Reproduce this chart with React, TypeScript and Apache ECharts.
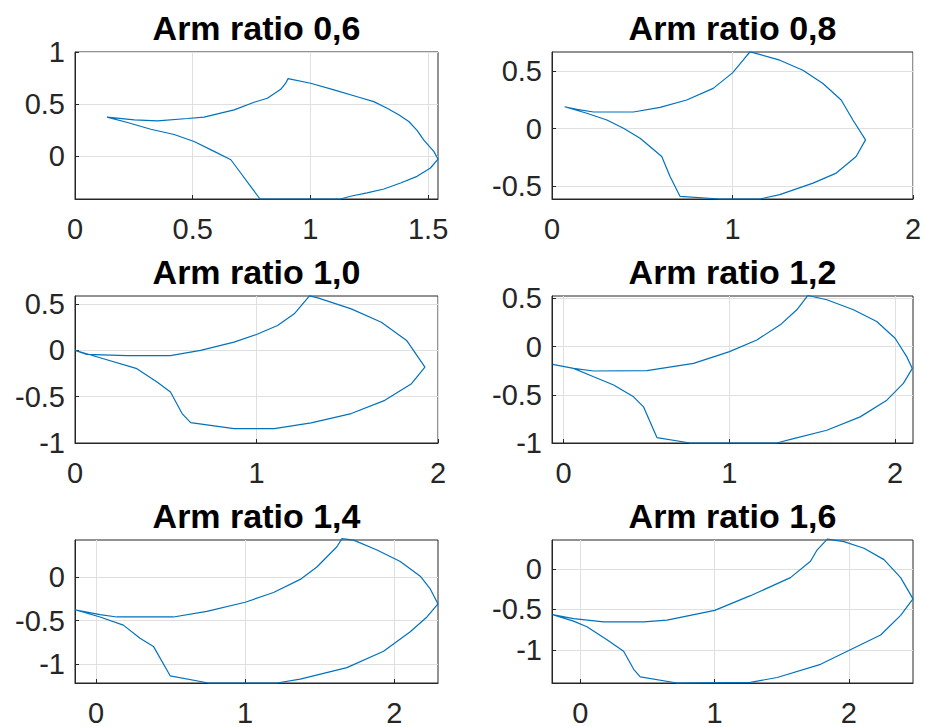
import React, { useEffect, useRef } from "react";
import * as echarts from "echarts";

// ---- Data ----
const titles = ["Arm ratio 0,6", "Arm ratio 0,8", "Arm ratio 1,0", "Arm ratio 1,2", "Arm ratio 1,4", "Arm ratio 1,6"];

const ratio06X = [0.136, 0.252, 0.351, 0.478, 0.548, 0.676, 0.761, 0.817, 0.874, 0.895, 0.905, 1.001, 1.1, 1.206, 1.269, 1.326, 1.375, 1.418, 1.453, 1.481, 1.524, 1.542, 1.51, 1.453, 1.383, 1.312, 1.241, 1.17, 1.128, 0.958, 0.786, 0.746, 0.704, 0.662, 0.591, 0.506, 0.421, 0.322, 0.223, 0.136];
const ratio06Y = [0.376, 0.35, 0.341, 0.363, 0.376, 0.446, 0.519, 0.557, 0.643, 0.701, 0.745, 0.701, 0.637, 0.567, 0.525, 0.462, 0.398, 0.334, 0.25, 0.159, 0.048, -0.025, -0.111, -0.191, -0.255, -0.312, -0.35, -0.382, -0.408, -0.408, -0.408, -0.287, -0.159, -0.032, 0.048, 0.143, 0.21, 0.26, 0.325, 0.376];

const ratio08X = [0.07, 0.138, 0.23, 0.451, 0.599, 0.746, 0.893, 1.0, 1.059, 1.096, 1.114, 1.262, 1.39, 1.501, 1.602, 1.667, 1.737, 1.685, 1.575, 1.446, 1.262, 1.151, 0.93, 0.709, 0.654, 0.608, 0.488, 0.396, 0.304, 0.193, 0.07];
const ratio08Y = [0.19, 0.167, 0.144, 0.144, 0.184, 0.248, 0.349, 0.484, 0.594, 0.665, 0.66, 0.594, 0.507, 0.392, 0.248, 0.075, -0.098, -0.242, -0.386, -0.473, -0.573, -0.611, -0.611, -0.588, -0.415, -0.242, -0.084, 0.003, 0.075, 0.133, 0.19];

const ratio10X = [0, 0.065, 0.286, 0.526, 0.692, 0.876, 1.0, 1.116, 1.208, 1.292, 1.338, 1.522, 1.688, 1.827, 1.928, 1.854, 1.707, 1.522, 1.301, 1.098, 0.876, 0.637, 0.59, 0.526, 0.452, 0.341, 0.138, 0];
const ratio10Y = [0, -0.043, -0.057, -0.057, 0, 0.09, 0.172, 0.269, 0.395, 0.59, 0.567, 0.449, 0.305, 0.108, -0.18, -0.359, -0.539, -0.682, -0.783, -0.844, -0.844, -0.779, -0.682, -0.449, -0.341, -0.197, -0.079, 0];

const ratio12X = [-0.066, 0.06, 0.181, 0.503, 0.784, 1.001, 1.166, 1.307, 1.407, 1.473, 1.588, 1.749, 1.889, 2.0, 2.07, 2.104, 2.05, 1.95, 1.789, 1.588, 1.387, 1.286, 0.764, 0.563, 0.482, 0.422, 0.302, 0.181, 0.06, -0.066];
const ratio12Y = [-0.184, -0.226, -0.253, -0.25, -0.174, -0.052, 0.069, 0.226, 0.382, 0.53, 0.486, 0.382, 0.26, 0.087, -0.104, -0.226, -0.382, -0.556, -0.729, -0.868, -0.955, -1.0, -1.0, -0.944, -0.625, -0.521, -0.399, -0.313, -0.226, -0.184];

const ratio14X = [-0.141, 0.027, 0.139, 0.519, 0.743, 1.0, 1.19, 1.369, 1.481, 1.615, 1.649, 1.727, 1.884, 2.04, 2.174, 2.242, 2.293, 2.219, 2.107, 1.928, 1.682, 1.369, 1.213, 0.754, 0.497, 0.385, 0.295, 0.183, 0.027, -0.141];
const ratio14Y = [-0.377, -0.433, -0.459, -0.459, -0.396, -0.291, -0.179, -0.03, 0.112, 0.343, 0.435, 0.418, 0.306, 0.175, 0.007, -0.142, -0.31, -0.459, -0.627, -0.851, -1.037, -1.168, -1.213, -1.213, -1.131, -0.795, -0.701, -0.552, -0.459, -0.377];

const ratio16X = [-0.206, -0.05, 0.174, 0.472, 0.646, 1.001, 1.267, 1.565, 1.714, 1.764, 1.839, 1.963, 2.112, 2.261, 2.385, 2.477, 2.385, 2.236, 2.037, 1.789, 1.466, 1.267, 0.72, 0.447, 0.398, 0.323, 0.199, 0.05, -0.05, -0.206];
const ratio16Y = [-0.565, -0.613, -0.653, -0.653, -0.633, -0.512, -0.331, -0.109, 0.093, 0.234, 0.365, 0.335, 0.254, 0.113, -0.109, -0.371, -0.573, -0.815, -0.976, -1.177, -1.339, -1.399, -1.407, -1.331, -1.238, -1.016, -0.875, -0.714, -0.645, -0.565];

// axis limits
const xMins = [0, 0, 0, -0.07, -0.141, -0.21];
const xMaxs = [1.542, 2, 2, 2.108, 2.293, 2.477];
const yMins = [-0.408, -0.611, -1, -1, -1.213, -1.407];
const yMaxs = [1, 0.665, 0.588, 0.525, 0.42, 0.355];

// tick labels
const xTicks = [[0, 0.5, 1, 1.5], [0, 1, 2], [0, 1, 2], [0, 1, 2], [0, 1, 2], [0, 1, 2]];
const yTicks = [[0, 0.5, 1], [-0.5, 0, 0.5], [-1, -0.5, 0, 0.5], [-1, -0.5, 0, 0.5], [-1, -0.5, 0], [-1, -0.5, 0]];

const seriesX = [ratio06X, ratio08X, ratio10X, ratio12X, ratio14X, ratio16X];
const seriesY = [ratio06Y, ratio08Y, ratio10Y, ratio12Y, ratio14Y, ratio16Y];

// ---- Layout ----
const colLeft = [75, 552];
const colWidth = [363, 361];
const rowTop = [52, 296, 540];
const rowHeight = 147;

const FONT = "'Liberation Sans', Arial, Helvetica, sans-serif";
const AXIS_COLOR = "#262626";

export default function App() {
  const ref = useRef<HTMLDivElement>(null);

  useEffect(() => {
    if (!ref.current) return;
    const chart = echarts.init(ref.current, undefined, { renderer: "svg" });

    const grids: any[] = [];
    const xAxes: any[] = [];
    const yAxes: any[] = [];
    const series: any[] = [];
    const titleArr: any[] = [];

    for (let i = 0; i < 6; i++) {
      const col = i % 2;
      const row = Math.floor(i / 2);
      const left = colLeft[col];
      const top = rowTop[row];
      const width = colWidth[col];
      grids.push({
        left,
        top,
        width,
        height: rowHeight,
        show: true,
        borderColor: AXIS_COLOR,
        borderWidth: 1,
        backgroundColor: "#ffffff",
        containLabel: false,
      });
      xAxes.push({
        type: "value",
        gridIndex: i,
        min: xMins[i],
        max: xMaxs[i],
        axisLine: { show: true, onZero: false, lineStyle: { color: AXIS_COLOR, width: 1 } },
        axisTick: { show: true, inside: true, length: 4, customValues: xTicks[i], lineStyle: { color: AXIS_COLOR } },
        axisLabel: {
          customValues: xTicks[i],
          fontSize: 29,
          color: AXIS_COLOR,
          fontFamily: FONT,
          margin: 15,
          showMinLabel: true,
          showMaxLabel: true,
        },
        splitLine: { show: true, lineStyle: { color: "#e0e0e0", width: 1 } },
      });
      yAxes.push({
        type: "value",
        gridIndex: i,
        min: yMins[i],
        max: yMaxs[i],
        axisLine: { show: true, onZero: false, lineStyle: { color: AXIS_COLOR, width: 1 } },
        axisTick: { show: true, inside: true, length: 4, customValues: yTicks[i], lineStyle: { color: AXIS_COLOR } },
        axisLabel: {
          customValues: yTicks[i],
          fontSize: 29,
          color: AXIS_COLOR,
          fontFamily: FONT,
          margin: 10,
          showMinLabel: true,
          showMaxLabel: true,
        },
        splitLine: { show: true, lineStyle: { color: "#e0e0e0", width: 1 } },
      });
      const xs = seriesX[i];
      const ys = seriesY[i];
      series.push({
        type: "line",
        name: titles[i],
        xAxisIndex: i,
        yAxisIndex: i,
        data: xs.map((x, k) => [x, ys[k]]),
        showSymbol: false,
        symbol: "none",
        clip: false,
        silent: true,
        lineStyle: { color: "#0072BD", width: 1.2 },
      });
      titleArr.push({
        text: titles[i],
        left: left + width / 2,
        top: top - 41.5,
        textAlign: "center",
        padding: 0,
        textStyle: { fontSize: 34, fontWeight: "bold", color: "#000000", fontFamily: FONT },
      });
    }

    chart.setOption({
      animation: false,
      backgroundColor: "#ffffff",
      title: titleArr,
      grid: grids,
      xAxis: xAxes,
      yAxis: yAxes,
      series,
    });

    return () => chart.dispose();
  }, []);

  return (
    <div
      ref={ref}
      style={{ position: "absolute", left: 0, top: 0, width: 925, height: 727 }}
    />
  );
}
